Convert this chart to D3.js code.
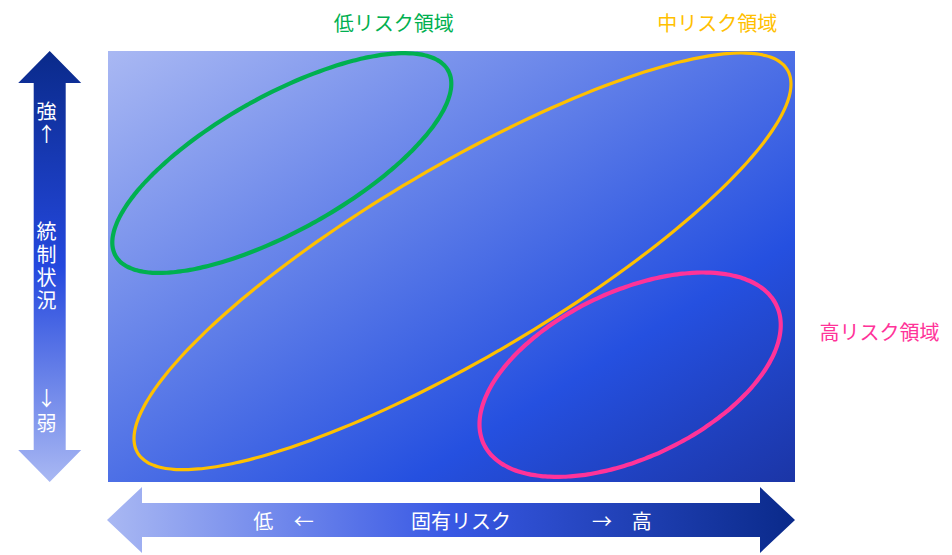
<!DOCTYPE html>
<html><head><meta charset="utf-8">
<script src="https://cdn.jsdelivr.net/npm/d3@7"></script>
<style>html,body{margin:0;padding:0;background:#fff;}svg{display:block;}
.vt{writing-mode:vertical-rl;text-orientation:upright;}</style>
</head><body>
<script>
// ---- data (data units: inherent risk 0-100 on x, control strength 0-100 on y) ----
const regionNames = ["低リスク領域", "中リスク領域", "高リスク領域"];
const regionCenters = [[25.3, 74.0], [51.6, 51.2], [76.0, 24.9]];
const regionMajorEnds = [[49.5, 95.5], [98.9, 95.6], [97.3, 41.0]];
const regionMinorEnds = [[30.1, 60.3], [58.6, 32.1], [81.2, 7.5]];
const regionLabelAnchors = [[41.6, 106.7], [88.7, 106.7], [112.3, 35.0]];
const xAxisLabels = ["低", "←", "固有リスク", "→", "高"];
const xAxisLabelAt = [22.6, 28.5, 51.4, 71.9, 77.7];
const yAxisLabels = ["強↑", "統制状況", "↓弱"];
const yAxisLabelAt = [[111.7, 22.8], [231.7, 22.8], [398, 25]]; // first glyph centre (px), pitch (px)

// ---- styles ----
const regionColors = ["#00b050", "#ffc000", "#ff3399"];
const regionStroke = [4.2, 3.2, 4.2];
const FONT = "'Noto Sans CJK JP','Noto Sans',sans-serif";
const FS = 20;

const W = 952, H = 555;
const plot = {left: 108, right: 795, top: 51, bottom: 482};

const x = d3.scaleLinear().domain([0, 100]).range([plot.left, plot.right]);
const y = d3.scaleLinear().domain([0, 100]).range([plot.bottom, plot.top]);

const svg = d3.select("body").append("svg").attr("width", W).attr("height", H);
const defs = svg.append("defs");

function grad(id, x2, y2, stops) {
  const g = defs.append("linearGradient").attr("id", id)
    .attr("x1", 0).attr("y1", 0).attr("x2", x2).attr("y2", y2);
  stops.forEach(([o, c]) => g.append("stop").attr("offset", o).attr("stop-color", c));
}
grad("bg", 1, 1, [[0, "#a9b8f3"], [0.72, "#2550e0"], [1, "#1b35a6"]]);
grad("vArrow", 0, 1, [[0, "#0a2a8a"], [0.5, "#2448de"], [1, "#a9b8f3"]]);
grad("hArrow", 1, 0, [[0, "#a9b8f3"], [0.5, "#3858e4"], [1, "#0a2a8a"]]);

// plot background
svg.append("rect")
  .attr("x", x(0)).attr("y", y(100))
  .attr("width", x(100) - x(0)).attr("height", y(0) - y(100))
  .attr("fill", "url(#bg)");

// regions (ellipses built in data space, mapped through the scales)
const ts = d3.range(0, 360, 2).map(d => d * Math.PI / 180);
const line = d3.line().x(d => x(d[0])).y(d => y(d[1])).curve(d3.curveCardinalClosed);
regionNames.forEach((name, i) => {
  const c = regionCenters[i], m = regionMajorEnds[i], n = regionMinorEnds[i];
  const pts = ts.map(t => [
    c[0] + (m[0] - c[0]) * Math.cos(t) + (n[0] - c[0]) * Math.sin(t),
    c[1] + (m[1] - c[1]) * Math.cos(t) + (n[1] - c[1]) * Math.sin(t)
  ]);
  svg.append("path").attr("d", line(pts))
    .attr("fill", "none").attr("stroke", regionColors[i]).attr("stroke-width", regionStroke[i]);
  const a = regionLabelAnchors[i];
  svg.append("text").attr("x", x(a[0])).attr("y", y(a[1]))
    .attr("text-anchor", "middle").attr("dominant-baseline", "central")
    .attr("font-family", FONT).attr("font-size", FS).attr("fill", regionColors[i])
    .text(name);
});

// vertical arrow (control status)
const vx = 49.7, headHalf = 31.5, shaftHalf = 16, headLen = 32;
const vTop = y(100), vBot = y(0);
svg.append("path").attr("fill", "url(#vArrow)").attr("d", [
  "M", vx, vTop, "L", vx + headHalf, vTop + headLen, "L", vx + shaftHalf, vTop + headLen,
  "L", vx + shaftHalf, vBot - headLen, "L", vx + headHalf, vBot - headLen, "L", vx, vBot,
  "L", vx - headHalf, vBot - headLen, "L", vx - shaftHalf, vBot - headLen,
  "L", vx - shaftHalf, vTop + headLen, "L", vx - headHalf, vTop + headLen, "Z"].join(" "));

svg.append("g").selectAll("text").data(yAxisLabels).join("text")
  .attr("class", "vt")
  .attr("x", 46.5).attr("y", (d, i) => yAxisLabelAt[i][0] - FS / 2)
  .attr("letter-spacing", (d, i) => yAxisLabelAt[i][1] - FS)
  .attr("font-family", FONT).attr("font-size", FS).attr("fill", "#fff")
  .text(d => d);

// horizontal arrow (inherent risk)
const hy = 520, hHead = 33, hShaft = 17, hLen = 35;
const hL = x(0) - 1, hR = x(100);
svg.append("path").attr("fill", "url(#hArrow)").attr("d", [
  "M", hL, hy, "L", hL + hLen, hy - hHead, "L", hL + hLen, hy - hShaft,
  "L", hR - hLen, hy - hShaft, "L", hR - hLen, hy - hHead, "L", hR, hy,
  "L", hR - hLen, hy + hHead, "L", hR - hLen, hy + hShaft,
  "L", hL + hLen, hy + hShaft, "L", hL + hLen, hy + hHead, "Z"].join(" "));

svg.append("g").selectAll("text").data(xAxisLabels).join("text")
  .attr("x", (d, i) => x(xAxisLabelAt[i])).attr("y", hy)
  .attr("text-anchor", "middle").attr("dominant-baseline", "central")
  .attr("font-family", FONT).attr("font-size", FS).attr("fill", "#fff")
  .text(d => d);
</script>
</body></html>
